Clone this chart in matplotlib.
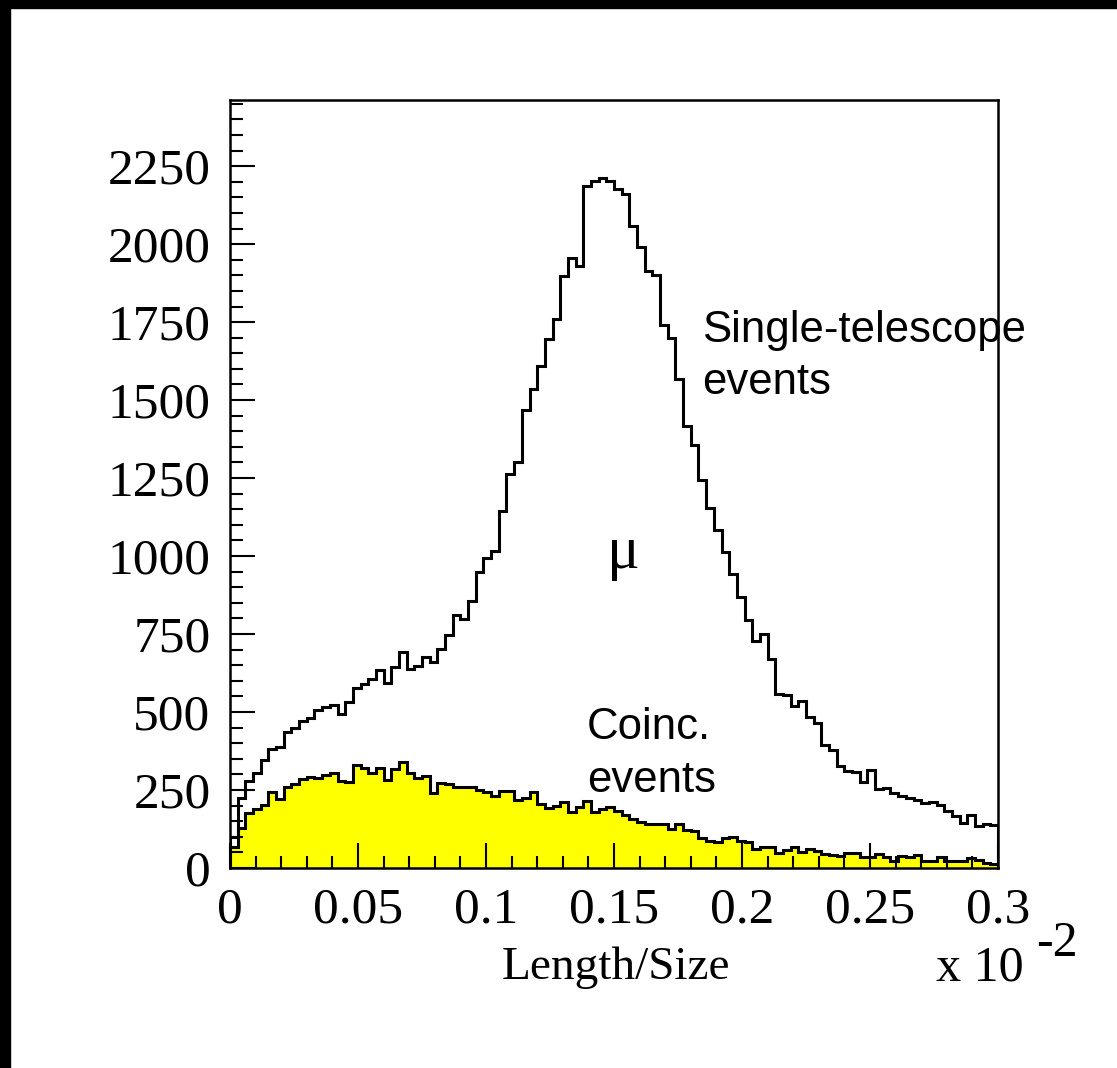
import numpy as np
import matplotlib.pyplot as plt
from matplotlib.patches import Rectangle
from matplotlib.ticker import MultipleLocator

# Length/Size 直方图：单望远镜事件 vs 符合事件
x_lo, x_hi, n_bins = 0.0, 0.3, 100

single_counts = [
    100, 226, 279, 306, 346, 381, 389, 435, 449, 470,
    481, 506, 516, 523, 493, 533, 578, 590, 607, 634,
    593, 644, 692, 638, 646, 678, 659, 702, 748, 812,
    798, 855, 950, 994, 1016, 1145, 1264, 1300, 1469, 1536,
    1610, 1697, 1759, 1897, 1954, 1931, 2187, 2201, 2213, 2201,
    2177, 2162, 2058, 1990, 1914, 1902, 1741, 1698, 1569, 1418,
    1356, 1245, 1153, 1083, 1012, 942, 870, 796, 728, 750,
    671, 558, 554, 519, 536, 483, 464, 393, 378, 327,
    312, 307, 277, 314, 254, 256, 239, 232, 226, 219,
    208, 212, 202, 183, 168, 145, 170, 136, 141, 137,
]

coinc_counts = [
    66, 128, 176, 190, 203, 243, 220, 260, 269, 284,
    293, 288, 299, 303, 280, 275, 329, 319, 305, 322,
    282, 318, 340, 304, 290, 296, 242, 273, 268, 259,
    259, 259, 251, 245, 231, 248, 248, 219, 226, 245,
    204, 192, 200, 210, 180, 197, 215, 180, 190, 197,
    183, 169, 157, 147, 140, 140, 140, 126, 140, 123,
    118, 97, 87, 83, 96, 100, 88, 82, 62, 68,
    66, 48, 58, 68, 52, 60, 56, 46, 42, 38,
    48, 47, 36, 36, 45, 34, 24, 38, 36, 41,
    24, 23, 36, 24, 21, 21, 31, 25, 16, 14,
]

x_ticks = [0, 0.05, 0.1, 0.15, 0.2, 0.25, 0.3]
x_tick_labels = ['0', '0.05', '0.1', '0.15', '0.2', '0.25', '0.3']
y_ticks = [0, 250, 500, 750, 1000, 1250, 1500, 1750, 2000, 2250]

serif = ['Liberation Serif', 'DejaVu Serif']
sans = ['Liberation Sans', 'DejaVu Sans']

edges = np.linspace(x_lo, x_hi, n_bins + 1)

fig = plt.figure(figsize=(11.17, 10.68), dpi=100)
ax = fig.add_axes([230 / 1117, 1 - 868 / 1068, 768 / 1117, 768 / 1068])

# 符合事件（黄色填充）
ax.stairs(coinc_counts, edges, fill=True, facecolor='#ffff00',
          edgecolor='black', linewidth=2.2)
# 单望远镜事件（黑色轮廓）
ax.stairs(single_counts, edges, color='black', linewidth=2.2)

ax.set_xlim(x_lo, x_hi)
ax.set_ylim(0, 2462)

ax.set_xticks(x_ticks)
ax.set_xticklabels(x_tick_labels)
ax.set_yticks(y_ticks)
ax.xaxis.set_minor_locator(MultipleLocator(0.01))
ax.yaxis.set_minor_locator(MultipleLocator(50))

ax.tick_params(which='both', direction='in', top=False, right=False,
               width=1.5, color='black')
ax.tick_params(which='major', length=18)
ax.tick_params(which='minor', length=9)
ax.tick_params(axis='y', which='major', pad=14)
ax.tick_params(axis='x', which='major', pad=14)
for lab in ax.get_xticklabels() + ax.get_yticklabels():
    lab.set_family(serif)
    lab.set_fontsize(37)

for sp in ax.spines.values():
    sp.set_linewidth(1.8)

# 坐标轴标题
fig.text(616 / 1117, 1 - 968 / 1068, 'Length/Size', family=serif,
         fontsize=34, ha='center', va='center')
fig.text(980 / 1117, 1 - 968 / 1068, 'x 10', family=serif,
         fontsize=36, ha='center', va='center')
fig.text(1057 / 1117, 1 - 944 / 1068, '-2', family=serif,
         fontsize=36, ha='center', va='center')

# 注释
ax.text(0.1845, 1639, 'Single-telescope\nevents', family=sans, fontsize=31.5,
        ha='left', va='center', linespacing=1.36)
ax.text(0.1395, 365, 'Coinc.\nevents', family=sans, fontsize=31.5,
        ha='left', va='center', linespacing=1.36)
ax.text(0.1535, 1010, 'μ', family=serif, fontsize=44,
        ha='center', va='center')

# 图像左上方的黑色边框
fig.patches.append(Rectangle((0, 1 - 8 / 1068), 1, 8 / 1068,
                             transform=fig.transFigure, color='black'))
fig.patches.append(Rectangle((0, 0), 10 / 1117, 1,
                             transform=fig.transFigure, color='black'))

fig.savefig('out.png', dpi=100)
